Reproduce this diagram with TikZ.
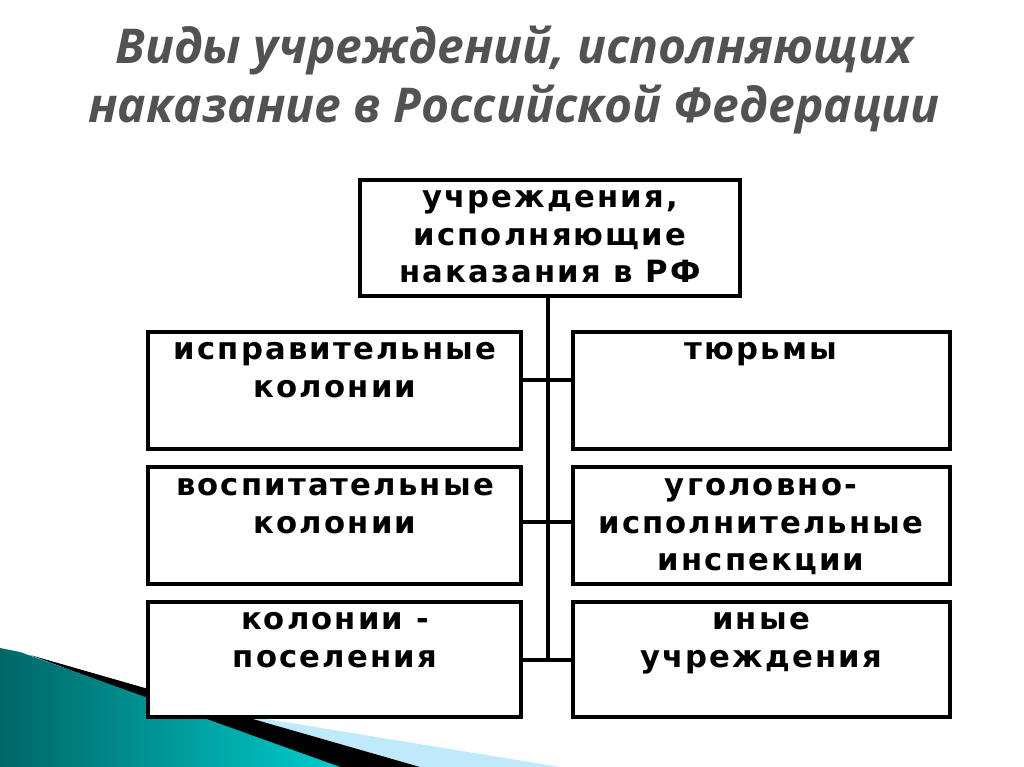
\documentclass[tikz,border=0pt]{standalone}
\usepackage{fontspec}
\setmainfont{DejaVu Sans}[LetterSpace=7]
\newfontfamily\titlefont{Open Sans}
\begin{document}
\begin{tikzpicture}[x=0.75pt,y=-0.75pt,
  box/.style={draw=black,line width=3.5pt,fill=white},
  lbl/.style={font=\fontsize{23}{28}\selectfont\bfseries,align=center,anchor=north},
  conn/.style={line width=2.5pt}]
\useasboundingbox (0,0) rectangle (1024,767);
% decoration
\fill[cyan!25!white] (150,700) -- (560,767) -- (400,767) -- cycle;
\fill[black] (30,655) -- (420,767) -- (330,767) -- cycle;
\shade[left color=teal!80!black,right color=cyan!60!teal] (0,648) -- (20,652) -- (340,767) -- (0,767) -- cycle;
% title
\node[font=\titlefont\itshape\bfseries\fontsize{36}{44}\selectfont,text=black!68,align=center] (title) at (514,80) {Виды учреждений, исполняющих\\наказание в Российской Федерации};
% connectors
\coordinate (t1) at (548,297);
\coordinate (b1) at (548,660);
\draw[conn] (t1) -- (b1);
\draw[conn] (522,380) -- (572,380);
\draw[conn] (522,522) -- (572,522);
\draw[conn] (522,660) -- (572,660);
% boxes
\draw[box] (360,180) rectangle (740,296);
\node[lbl] (top) at (550,186) {учреждения,\\исполняющие\\наказания в РФ};
\draw[box] (148,332) rectangle (521,449);
\node[lbl] (l1) at (335,338) {исправительные\\колонии};
\draw[box] (573,332) rectangle (950,449);
\node[lbl] (r1) at (761,338) {тюрьмы};
\draw[box] (148,467) rectangle (521,584);
\node[lbl] (l2) at (335,474) {воспитательные\\колонии};
\draw[box] (573,467) rectangle (950,584);
\node[lbl] (r2) at (761,474) {уголовно-\\исполнительные\\инспекции};
\draw[box] (148,602) rectangle (521,717);
\node[lbl] (l3) at (335,608) {колонии -\\поселения};
\draw[box] (573,602) rectangle (950,717);
\node[lbl] (r3) at (761,608) {иные\\учреждения};
\end{tikzpicture}
\end{document}
